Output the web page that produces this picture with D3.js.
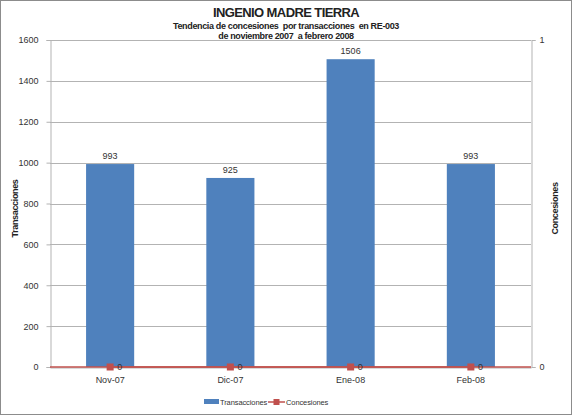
<!DOCTYPE html>
<html lang="es">
<head>
<meta charset="UTF-8">
<title>Ingenio Madre Tierra</title>
<script src="https://d3js.org/d3.v7.min.js"></script>
<style>
  body { margin: 0; background: #fff; }
  text { font-family: "Liberation Sans", Arial, sans-serif; white-space: pre; }
</style>
</head>
<body>
<svg width="572" height="415"></svg>
<script>
    // data
    const months = ["Nov-07", "Dic-07", "Ene-08", "Feb-08"];
    const transacciones = [993, 925, 1506, 993];
    const concesiones = [0, 0, 0, 0];
    const leftTicks = [0, 200, 400, 600, 800, 1000, 1200, 1400, 1600];
    const rightTicks = [0, 1];

    let svg = d3.select("svg");
    const W = 572, H = 415;
    const mLeft = 50, mRight = 531, mTop = 40, mBottom = 367;

    // chart border
    svg.append("rect").attr("x", 0.5).attr("y", 0.5)
        .attr("width", W - 1).attr("height", H - 1)
        .attr("fill", "#fff").attr("stroke", "#8c8c8c");

    let x = d3.scaleBand().domain(months).range([mLeft, mRight]).paddingInner(0.6).paddingOuter(0.3);
    let y = d3.scaleLinear().domain([0, 1600]).range([mBottom, mTop]);
    let y2 = d3.scaleLinear().domain([0, 1]).range([mBottom, mTop]);

    // gridlines
    svg.append("g").selectAll("line").data(leftTicks.slice(1)).enter().append("line")
        .attr("x1", mLeft).attr("x2", mRight)
        .attr("y1", d => Math.round(y(d)) + 0.5).attr("y2", d => Math.round(y(d)) + 0.5)
        .attr("stroke", "#b3b3b3").attr("stroke-width", 1);

    // bars
    svg.append("g").selectAll("rect").data(transacciones).enter().append("rect")
        .attr("x", (d, i) => x(months[i]))
        .attr("y", d => y(d))
        .attr("width", x.bandwidth())
        .attr("height", d => mBottom - y(d))
        .attr("fill", "#4f81bd");

    svg.append("g").selectAll("text").data(transacciones).enter().append("text")
        .attr("x", (d, i) => x(months[i]) + x.bandwidth() / 2)
        .attr("y", d => y(d) - 5)
        .attr("text-anchor", "middle")
        .attr("font-size", 9).attr("fill", "#333")
        .text(d => d);

    const fmt = d3.format("d");

    // left axis
    let gl = svg.append("g").attr("transform", `translate(${mLeft + 0.5},0)`)
        .call(d3.axisLeft(y).tickValues(leftTicks).tickFormat(fmt).tickSize(4).tickPadding(8));
    gl.select(".domain").attr("stroke", "#b3b3b3");
    gl.selectAll(".tick line").attr("stroke", "#b3b3b3");
    gl.selectAll("text").attr("font-size", 9).attr("fill", "#333")
        .style("font-family", "Liberation Sans, Arial, sans-serif");

    // right axis
    let gr = svg.append("g").attr("transform", `translate(${mRight + 0.5},0)`)
        .call(d3.axisRight(y2).tickValues(rightTicks).tickFormat(fmt).tickSize(4).tickPadding(4));
    gr.select(".domain").attr("stroke", "#b3b3b3");
    gr.selectAll(".tick line").attr("stroke", "#b3b3b3");
    gr.selectAll("text").attr("font-size", 9).attr("fill", "#333")
        .style("font-family", "Liberation Sans, Arial, sans-serif");

    // bottom axis
    let gb = svg.append("g").attr("transform", `translate(0,${mBottom + 0.5})`)
        .call(d3.axisBottom(x).tickSize(0).tickPadding(9));
    gb.select(".domain").attr("stroke", "#b3b3b3");
    gb.selectAll("text").attr("font-size", 9).attr("fill", "#333")
        .style("font-family", "Liberation Sans, Arial, sans-serif");

    // concesiones line on secondary axis
    let line = d3.line()
        .x((d, i) => x(months[i]) + x.bandwidth() / 2)
        .y(d => y2(d));
    svg.append("path")
        .attr("d", `M${mLeft},${mBottom}H${mRight}`)
        .attr("stroke", "#c0504d").attr("stroke-width", 1.5).attr("fill", "none");
    svg.append("path").datum(concesiones)
        .attr("d", line)
        .attr("fill", "none").attr("stroke", "#c0504d").attr("stroke-width", 1.5);
    svg.append("g").selectAll("rect").data(concesiones).enter().append("rect")
        .attr("x", (d, i) => x(months[i]) + x.bandwidth() / 2 - 3.5)
        .attr("y", d => y2(d) - 3.5)
        .attr("width", 7).attr("height", 7)
        .attr("fill", "#c0504d");
    svg.append("g").selectAll("text").data(concesiones).enter().append("text")
        .attr("x", (d, i) => x(months[i]) + x.bandwidth() / 2 + 7)
        .attr("y", d => y2(d) + 3)
        .attr("font-size", 9).attr("fill", "#333")
        .text(d => d);

    // titles
    svg.append("text").attr("x", W / 2).attr("y", 17).attr("text-anchor", "middle")
        .attr("font-size", 13).attr("font-weight", "bold").attr("fill", "#222")
        .attr("letter-spacing", -0.6)
        .text("INGENIO MADRE TIERRA");
    svg.append("text").attr("x", W / 2).attr("y", 29).attr("text-anchor", "middle")
        .attr("font-size", 9).attr("font-weight", "bold").attr("fill", "#222")
        .attr("letter-spacing", -0.35)
        .text("Tendencia de concesiones  por transacciones  en RE-003");
    svg.append("text").attr("x", W / 2).attr("y", 39).attr("text-anchor", "middle")
        .attr("font-size", 9).attr("font-weight", "bold").attr("fill", "#222")
        .attr("letter-spacing", -0.35)
        .text("de noviembre 2007  a febrero 2008");

    svg.append("text").attr("transform", `translate(18,${(mTop + mBottom) / 2 + 5}) rotate(-90)`)
        .attr("text-anchor", "middle").attr("font-size", 9).attr("font-weight", "bold")
        .attr("letter-spacing", -0.35).attr("fill", "#222")
        .text("Transacciones");
    svg.append("text").attr("transform", `translate(558,${(mTop + mBottom) / 2 + 5}) rotate(-90)`)
        .attr("text-anchor", "middle").attr("font-size", 9).attr("font-weight", "bold")
        .attr("letter-spacing", -0.35).attr("fill", "#222")
        .text("Concesiones");

    // legend
    let lg = svg.append("g").attr("transform", "translate(0,402)");
    lg.append("rect").attr("x", 204).attr("y", -3).attr("width", 15).attr("height", 5).attr("fill", "#4f81bd");
    lg.append("text").attr("x", 220).attr("y", 3).attr("font-size", 7.5).attr("letter-spacing", -0.1)
        .attr("fill", "#333").text("Transacciones");
    lg.append("line").attr("x1", 268).attr("x2", 285).attr("y1", 0).attr("y2", 0)
        .attr("stroke", "#c0504d").attr("stroke-width", 1.5);
    lg.append("rect").attr("x", 273.5).attr("y", -3).attr("width", 6).attr("height", 6).attr("fill", "#c0504d");
    lg.append("text").attr("x", 286).attr("y", 3).attr("font-size", 7.5).attr("letter-spacing", -0.1)
        .attr("fill", "#333").text("Concesiones");
</script>
</body>
</html>
